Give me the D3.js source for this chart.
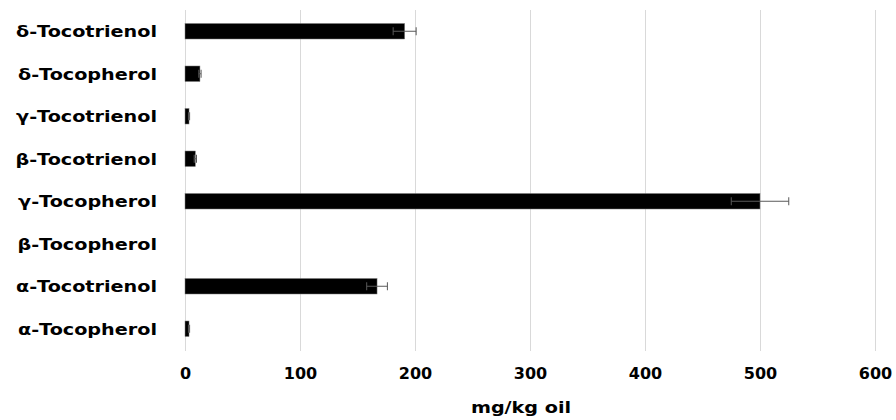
<!DOCTYPE html>
<html lang="en">
<head>
<meta charset="UTF-8">
<title>Tocopherols and tocotrienols</title>
<script src="https://d3js.org/d3.v7.min.js"></script>
<style>
  body { margin: 0; background: #fff; }
  text { font-family: "DejaVu Sans", "Open Sans", sans-serif; font-weight: bold; fill: #000; }
</style>
</head>
<body>
<div id="chart"></div>
<script>
// compounds, top to bottom
const compounds = ["δ-Tocotrienol", "δ-Tocopherol", "γ-Tocotrienol", "β-Tocotrienol",
                   "γ-Tocopherol", "β-Tocopherol", "α-Tocotrienol", "α-Tocopherol"];
const values = [191, 13, 3.5, 9, 500, 0, 167, 3.5];
const errors = [10, 1, 0.5, 1, 25, 0, 9, 0.5];
const xTicks = [0, 100, 200, 300, 400, 500, 600];

const margin = {top: 10, right: 21, bottom: 70, left: 185},
    width = 896 - margin.left - margin.right,
    height = 420 - margin.top - margin.bottom;

// the original labels are a wide, stretched bold face
const stretch = 1.2;

const svg = d3.select("#chart")
  .append("svg")
    .attr("width", 896)
    .attr("height", 420)
  .append("g")
    .attr("transform", `translate(${margin.left},${margin.top})`);

const x = d3.scaleLinear().domain([0, 600]).range([0, 690]);
const y = d3.scaleBand().domain(compounds).range([0, height]).paddingInner(0.635).paddingOuter(0.3175);

// gridlines
svg.append("g").selectAll("line")
  .data(xTicks)
  .join("line")
    .attr("x1", d => x(d)).attr("x2", d => x(d))
    .attr("y1", 0).attr("y2", height + 0.5)
    .attr("stroke", "#d9d9d9")
    .attr("stroke-width", 1)
    .attr("shape-rendering", "crispEdges");

// x axis labels
const xAxis = svg.append("g")
  .attr("transform", `translate(0,${height})`)
  .call(d3.axisBottom(x).tickValues(xTicks).tickSize(0).tickPadding(16));
xAxis.select(".domain").remove();
xAxis.selectAll("text").style("font-size", "16px").attr("dy", "0.8em");

// category labels
svg.append("g").selectAll("text")
  .data(compounds)
  .join("text")
    .attr("transform", d => `translate(-28,${y(d) + y.bandwidth() / 2}) scale(${stretch},1)`)
    .attr("dy", "0.36em")
    .attr("text-anchor", "end")
    .style("font-size", "16px")
    .text(d => d);

// bars
svg.append("g").selectAll("rect")
  .data(compounds)
  .join("rect")
    .attr("x", x(0))
    .attr("y", d => y(d))
    .attr("width", (d, i) => x(values[i]) - x(0))
    .attr("height", y.bandwidth())
    .attr("fill", "#000")
    .attr("stroke", "#7f7f7f")
    .attr("stroke-width", 0.5);

// error bars
const eb = svg.append("g").attr("stroke", "#595959").attr("stroke-width", 1);
compounds.forEach((c, i) => {
  if (errors[i] <= 0) return;
  const cy = y(c) + y.bandwidth() / 2;
  const lo = x(values[i] - errors[i]), hi = x(values[i] + errors[i]);
  eb.append("line").attr("x1", lo).attr("x2", hi).attr("y1", cy).attr("y2", cy);
  eb.append("line").attr("x1", lo).attr("x2", lo).attr("y1", cy - 4).attr("y2", cy + 4);
  eb.append("line").attr("x1", hi).attr("x2", hi).attr("y1", cy - 4).attr("y2", cy + 4);
});

// axis title
svg.append("text")
  .attr("transform", `translate(336,${height + 63}) scale(${stretch},1)`)
  .attr("text-anchor", "middle")
  .style("font-size", "16px")
  .text("mg/kg oil");
</script>
</body>
</html>
